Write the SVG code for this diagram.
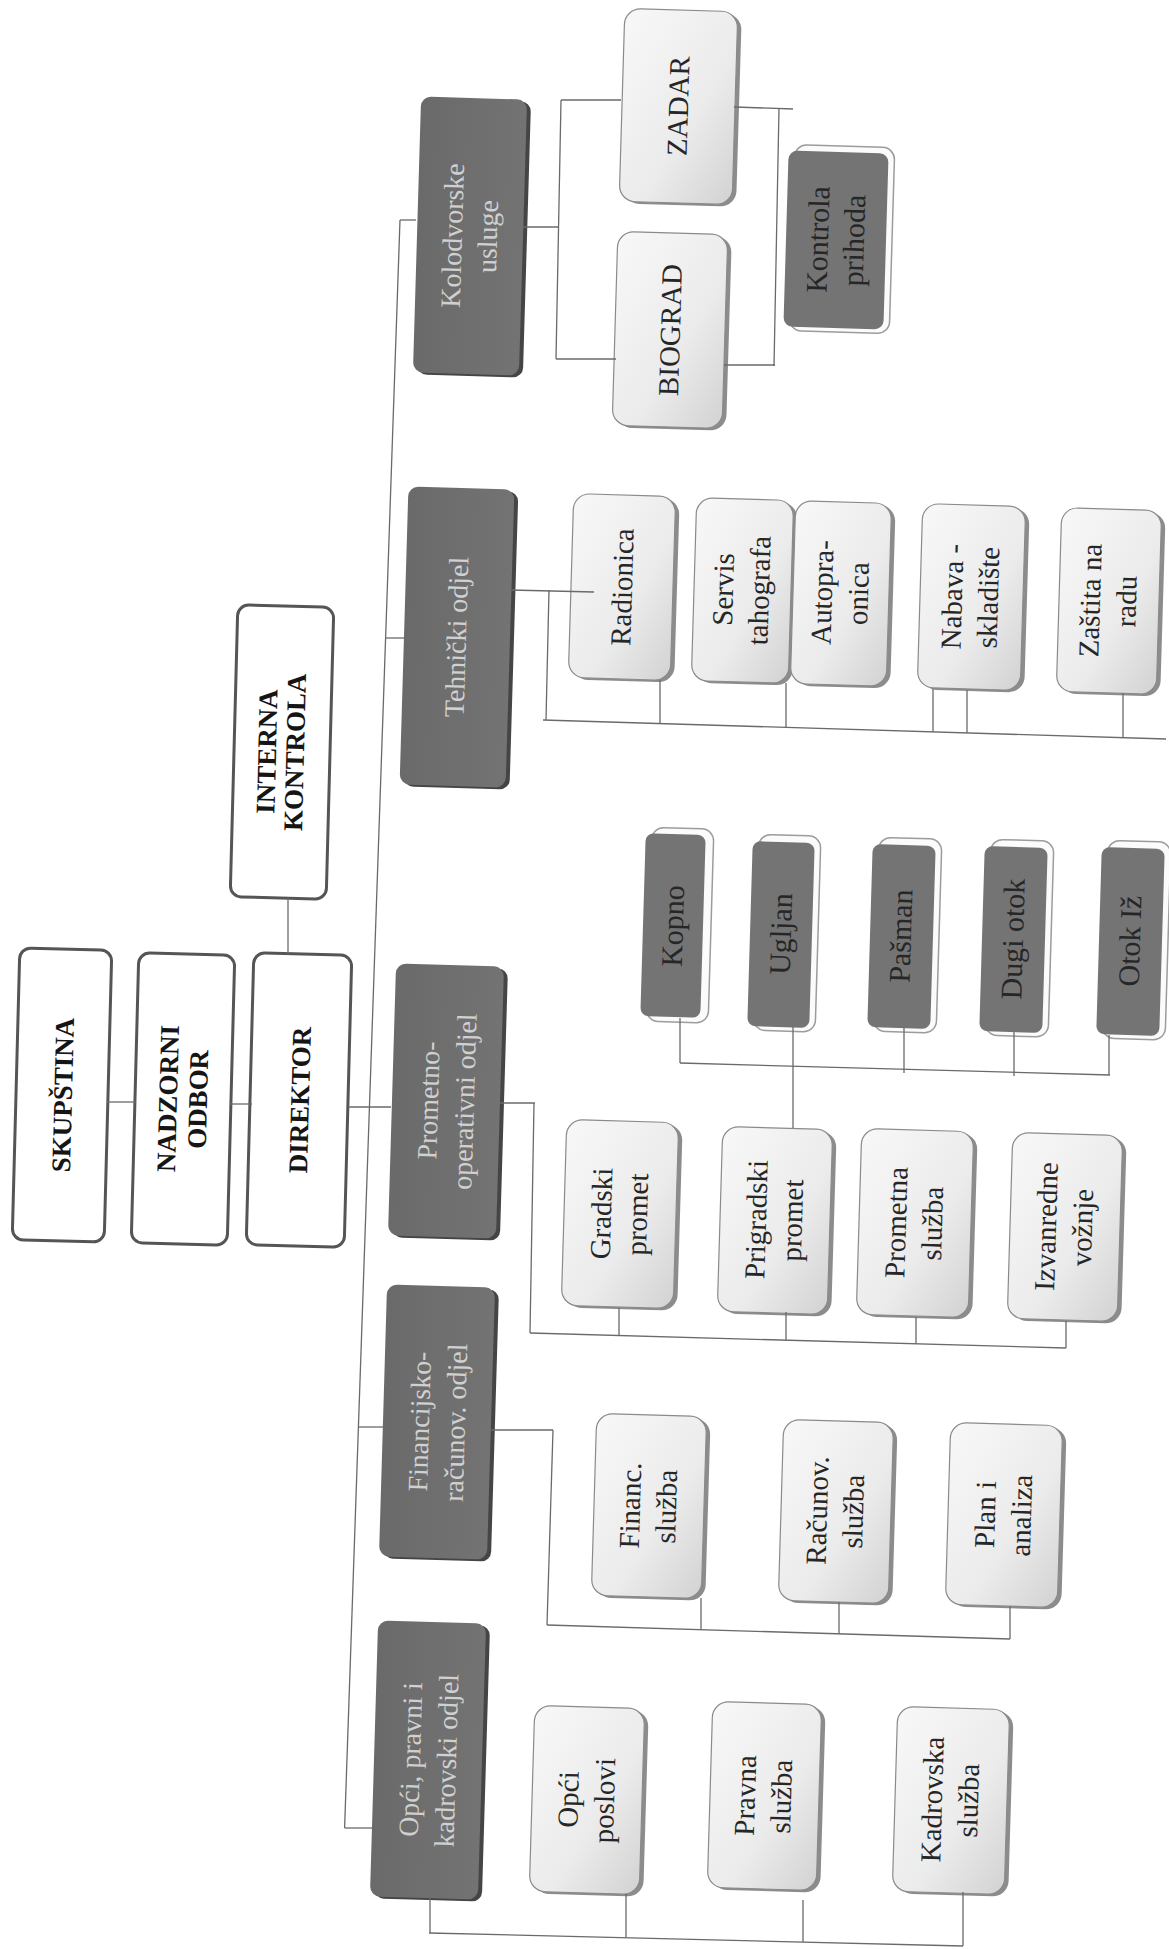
<svg xmlns="http://www.w3.org/2000/svg" width="1169" height="1949" viewBox="0 0 1169 1949">
<defs>
<linearGradient id="gL" x1="0" y1="0" x2="1" y2="1"><stop offset="0" stop-color="#f8f8f8"/><stop offset="0.6" stop-color="#ebebeb"/><stop offset="1" stop-color="#d2d2d2"/></linearGradient>
<linearGradient id="gD" x1="0" y1="0" x2="1" y2="0"><stop offset="0" stop-color="#6a6a6a"/><stop offset="1" stop-color="#737373"/></linearGradient>
</defs>
<style>
text{font-family:"Liberation Serif","Times New Roman",serif;text-anchor:middle}
.top .b{fill:#fff;stroke:#555;stroke-width:3}
.top text{font-weight:bold;font-size:27px;fill:#151515}
.dept .b{fill:url(#gD)}
.dept .s{fill:#454545}
.dept text{font-size:28px;fill:#d0d0d0}
.isl .b{fill:#747474}
.isl .s{fill:#fbfbfb;stroke:#9c9c9c;stroke-width:1.5}
.isl text{font-size:30px;fill:#262626}
.lt .b{fill:url(#gL);stroke:#8a8a8a;stroke-width:1.2}
.lt .s{fill:#8c8c8c}
.lt text{font-size:29px;fill:#262626}
.c path{fill:none;stroke:#6a6a6a;stroke-width:1.3}
</style>
<rect width="1169" height="1949" fill="#fff"/>

<g id="nodes">
<g id="skupstina" class="top" transform="translate(62 1095) rotate(1.5)"><rect class="b" x="-46" y="-146" width="92" height="292" rx="11"/><text transform="rotate(-90)"><tspan x="0" y="10">SKUPŠTINA</tspan></text></g>
<g id="nadzorni" class="top" transform="translate(183 1099) rotate(1.5)"><rect class="b" x="-48" y="-145" width="96" height="290" rx="11"/><text transform="rotate(-90)"><tspan x="0" y="-6">NADZORNI</tspan><tspan x="0" y="24">ODBOR</tspan></text></g>
<g id="direktor" class="top" transform="translate(299 1100) rotate(1.5)"><rect class="b" x="-49" y="-146" width="98" height="292" rx="11"/><text transform="rotate(-90)"><tspan x="0" y="10">DIREKTOR</tspan></text></g>
<g id="interna" class="top" transform="translate(282 752) rotate(1.5)"><rect class="b" x="-48" y="-146" width="96" height="292" rx="11"/><text transform="rotate(-90)"><tspan x="0" y="-6">INTERNA</tspan><tspan x="0" y="22">KONTROLA</tspan></text></g>

<g id="kolodvorske" class="dept" transform="translate(470 236) rotate(1.7)"><rect class="s" x="-49" y="-136" width="106" height="276" rx="10"/><rect class="b" x="-53" y="-138" width="106" height="276" rx="10"/><text transform="rotate(-90)"><tspan x="0" y="-8">Kolodvorske</tspan><tspan x="0" y="27">usluge</tspan></text></g>
<g id="tehnicki" class="dept" transform="translate(457 637) rotate(1.7)"><rect class="s" x="-49" y="-147" width="106" height="298" rx="10"/><rect class="b" x="-53" y="-149" width="106" height="298" rx="10"/><text transform="rotate(-90)"><tspan x="0" y="9">Tehnički odjel</tspan></text></g>
<g id="prometno" class="dept" transform="translate(446 1101) rotate(1.7)"><rect class="s" x="-50" y="-134" width="108" height="272" rx="10"/><rect class="b" x="-54" y="-136" width="108" height="272" rx="10"/><text transform="rotate(-90)"><tspan x="0" y="-8">Prometno-</tspan><tspan x="0" y="28">operativni odjel</tspan></text></g>
<g id="financijsko" class="dept" transform="translate(437 1422) rotate(1.7)"><rect class="s" x="-50" y="-134" width="108" height="272" rx="10"/><rect class="b" x="-54" y="-136" width="108" height="272" rx="10"/><text transform="rotate(-90)"><tspan x="0" y="-8">Financijsko-</tspan><tspan x="0" y="28">računov. odjel</tspan></text></g>
<g id="opci-pravni" class="dept" transform="translate(428 1760) rotate(1.7)"><rect class="s" x="-50" y="-136" width="108" height="276" rx="10"/><rect class="b" x="-54" y="-138" width="108" height="276" rx="10"/><text transform="rotate(-90)"><tspan x="0" y="-8">Opći, pravni i</tspan><tspan x="0" y="28">kadrovski odjel</tspan></text></g>

<g id="kontrola" class="isl" transform="translate(836 240) rotate(1.7)"><rect class="s" x="-44" y="-94" width="100" height="186" rx="12"/><rect class="b" x="-50" y="-88" width="100" height="176" rx="9"/><text transform="rotate(-90)"><tspan x="0" y="-8">Kontrola</tspan><tspan x="0" y="28">prihoda</tspan></text></g>
<g id="kopno" class="isl" transform="translate(673 926) rotate(1.7)"><rect class="s" x="-24" y="-98" width="62" height="194" rx="12"/><rect class="b" x="-30" y="-92" width="60" height="183" rx="8"/><text transform="rotate(-90)"><tspan x="0" y="10">Kopno</tspan></text></g>
<g id="ugljan" class="isl" transform="translate(781 934) rotate(1.7)"><rect class="s" x="-25" y="-99" width="62" height="196" rx="12"/><rect class="b" x="-31" y="-92" width="62" height="185" rx="8"/><text transform="rotate(-90)"><tspan x="0" y="10">Ugljan</tspan></text></g>
<g id="pasman" class="isl" transform="translate(901 936) rotate(1.7)"><rect class="s" x="-25" y="-98" width="63" height="194" rx="12"/><rect class="b" x="-31" y="-91" width="63" height="183" rx="8"/><text transform="rotate(-90)"><tspan x="0" y="10">Pašman</tspan></text></g>
<g id="dugi-otok" class="isl" transform="translate(1013 939) rotate(1.7)"><rect class="s" x="-25" y="-99" width="63" height="196" rx="12"/><rect class="b" x="-31" y="-92" width="63" height="185" rx="8"/><text transform="rotate(-90)"><tspan x="0" y="10">Dugi otok</tspan></text></g>
<g id="otok-iz" class="isl" transform="translate(1130 941) rotate(1.7)"><rect class="s" x="-25" y="-100" width="63" height="198" rx="12"/><rect class="b" x="-31" y="-93" width="63" height="187" rx="8"/><text transform="rotate(-90)"><tspan x="0" y="10">Otok Iž</tspan></text></g>

<g id="zadar" class="lt" transform="translate(678 106) rotate(1.7)"><rect class="s" x="-52" y="-94" width="113" height="193" rx="16"/><rect class="b" x="-56" y="-96" width="113" height="193" rx="16"/><text transform="rotate(-90)"><tspan x="0" y="10">ZADAR</tspan></text></g>
<g id="biograd" class="lt" transform="translate(670 330) rotate(1.7)"><rect class="s" x="-51" y="-95" width="110" height="194" rx="16"/><rect class="b" x="-55" y="-97" width="110" height="194" rx="16"/><text transform="rotate(-90)"><tspan x="0" y="10">BIOGRAD</tspan></text></g>
<g id="radionica" class="lt" transform="translate(622 587) rotate(1.7)"><rect class="s" x="-47" y="-90" width="102" height="184" rx="16"/><rect class="b" x="-51" y="-92" width="102" height="184" rx="16"/><text transform="rotate(-90)"><tspan x="0" y="10">Radionica</tspan></text></g>
<g id="servis" class="lt" transform="translate(742 590) rotate(1.7)"><rect class="s" x="-44" y="-89" width="97" height="183" rx="16"/><rect class="b" x="-48" y="-91" width="97" height="183" rx="16"/><text transform="rotate(-90)"><tspan x="0" y="-9">Servis</tspan><tspan x="0" y="27">tahografa</tspan></text></g>
<g id="autopraonica" class="lt" transform="translate(841 593) rotate(1.7)"><rect class="s" x="-44" y="-89" width="96" height="183" rx="16"/><rect class="b" x="-48" y="-91" width="96" height="183" rx="16"/><text transform="rotate(-90)"><tspan x="0" y="-9">Autopra-</tspan><tspan x="0" y="27">onica</tspan></text></g>
<g id="nabava" class="lt" transform="translate(971 597) rotate(1.7)"><rect class="s" x="-47" y="-90" width="103" height="184" rx="16"/><rect class="b" x="-51" y="-92" width="103" height="184" rx="16"/><text transform="rotate(-90)"><tspan x="0" y="-9">Nabava -</tspan><tspan x="0" y="27">skladište</tspan></text></g>
<g id="zastita" class="lt" transform="translate(1109 601) rotate(1.7)"><rect class="s" x="-46" y="-90" width="100" height="184" rx="16"/><rect class="b" x="-50" y="-92" width="100" height="184" rx="16"/><text transform="rotate(-90)"><tspan x="0" y="-9">Zaštita na</tspan><tspan x="0" y="27">radu</tspan></text></g>
<g id="gradski" class="lt" transform="translate(620 1214) rotate(1.7)"><rect class="s" x="-52" y="-91" width="112" height="186" rx="16"/><rect class="b" x="-56" y="-93" width="112" height="186" rx="16"/><text transform="rotate(-90)"><tspan x="0" y="-9">Gradski</tspan><tspan x="0" y="27">promet</tspan></text></g>
<g id="prigradski" class="lt" transform="translate(775 1220) rotate(1.7)"><rect class="s" x="-51" y="-90" width="110" height="185" rx="16"/><rect class="b" x="-55" y="-92" width="110" height="185" rx="16"/><text transform="rotate(-90)"><tspan x="0" y="-9">Prigradski</tspan><tspan x="0" y="27">promet</tspan></text></g>
<g id="prometna" class="lt" transform="translate(915 1223) rotate(1.7)"><rect class="s" x="-52" y="-91" width="112" height="186" rx="16"/><rect class="b" x="-56" y="-93" width="112" height="186" rx="16"/><text transform="rotate(-90)"><tspan x="0" y="-9">Prometna</tspan><tspan x="0" y="27">služba</tspan></text></g>
<g id="izvanredne" class="lt" transform="translate(1065 1227) rotate(1.7)"><rect class="s" x="-51" y="-91" width="110" height="186" rx="16"/><rect class="b" x="-55" y="-93" width="110" height="186" rx="16"/><text transform="rotate(-90)"><tspan x="0" y="-9">Izvanredne</tspan><tspan x="0" y="27">vožnje</tspan></text></g>
<g id="financ" class="lt" transform="translate(649 1506) rotate(1.7)"><rect class="s" x="-51" y="-89" width="110" height="182" rx="16"/><rect class="b" x="-55" y="-91" width="110" height="182" rx="16"/><text transform="rotate(-90)"><tspan x="0" y="-9">Financ.</tspan><tspan x="0" y="27">služba</tspan></text></g>
<g id="racunov" class="lt" transform="translate(836 1511) rotate(1.7)"><rect class="s" x="-51" y="-88" width="110" height="181" rx="16"/><rect class="b" x="-55" y="-90" width="110" height="181" rx="16"/><text transform="rotate(-90)"><tspan x="0" y="-9">Računov.</tspan><tspan x="0" y="27">služba</tspan></text></g>
<g id="plan" class="lt" transform="translate(1004 1515) rotate(1.7)"><rect class="s" x="-52" y="-89" width="112" height="182" rx="16"/><rect class="b" x="-56" y="-91" width="112" height="182" rx="16"/><text transform="rotate(-90)"><tspan x="0" y="-9">Plan i</tspan><tspan x="0" y="27">analiza</tspan></text></g>
<g id="opci" class="lt" transform="translate(587 1800) rotate(1.7)"><rect class="s" x="-51" y="-91" width="110" height="186" rx="16"/><rect class="b" x="-55" y="-93" width="110" height="186" rx="16"/><text transform="rotate(-90)"><tspan x="0" y="-9">Opći</tspan><tspan x="0" y="27">poslovi</tspan></text></g>
<g id="pravna" class="lt" transform="translate(764 1796) rotate(1.7)"><rect class="s" x="-50" y="-91" width="109" height="186" rx="16"/><rect class="b" x="-54" y="-93" width="109" height="186" rx="16"/><text transform="rotate(-90)"><tspan x="0" y="-9">Pravna</tspan><tspan x="0" y="27">služba</tspan></text></g>
<g id="kadrovska" class="lt" transform="translate(951 1800) rotate(1.7)"><rect class="s" x="-52" y="-90" width="112" height="185" rx="16"/><rect class="b" x="-56" y="-92" width="112" height="185" rx="16"/><text transform="rotate(-90)"><tspan x="0" y="-9">Kadrovska</tspan><tspan x="0" y="27">služba</tspan></text></g>
</g>

<g id="connectors" class="c">
<path d="M400,220 L344.6,1828"/>
<path d="M400,220 H416"/>
<path d="M386,638 H404"/>
<path d="M348,1107 H391"/>
<path d="M358,1427 H383"/>
<path d="M344.6,1828 H374"/>
<path d="M288,898 V955"/>
<path d="M107,1102 H136"/>
<path d="M230,1104 H252"/>
<path d="M523,227 H559"/>
<path d="M561,100 L556,359"/>
<path d="M561,100 H621"/>
<path d="M556,359 H616"/>
<path d="M734,107 L793,109"/>
<path d="M779,108 L774,366"/>
<path d="M724,365 H775"/>
<path d="M510,590 L594,592"/>
<path d="M549,590 L546,720"/>
<path d="M543,720 L1166,739"/>
<path d="M660,680 V723.6"/>
<path d="M786,683 V727.4"/>
<path d="M933,689 V731.9"/>
<path d="M967,690 V732.9"/>
<path d="M1123,693 V737.7"/>
<path d="M499,1103 H535"/>
<path d="M534,1103 L530,1333"/>
<path d="M530,1333 L1066,1348"/>
<path d="M619,1308 V1335.5"/>
<path d="M786,1312 V1340"/>
<path d="M916,1317 V1344"/>
<path d="M1066,1321 V1348"/>
<path d="M680,1018 V1063"/>
<path d="M680,1063 L1110,1075"/>
<path d="M793,1027 V1128"/>
<path d="M904,1028 V1073"/>
<path d="M1014,1032 V1076"/>
<path d="M1109,1035 V1075"/>
<path d="M490,1430 H553"/>
<path d="M553,1430 L547,1625"/>
<path d="M547,1625 L1010,1639"/>
<path d="M701,1598 V1629.7"/>
<path d="M839,1602 V1633.8"/>
<path d="M1010,1606 V1639"/>
<path d="M430,1897 V1933"/>
<path d="M429,1933 L963,1946"/>
<path d="M626,1894 V1937.8"/>
<path d="M803,1900 V1942"/>
<path d="M963,1892 V1946"/>
</g>
</svg>
